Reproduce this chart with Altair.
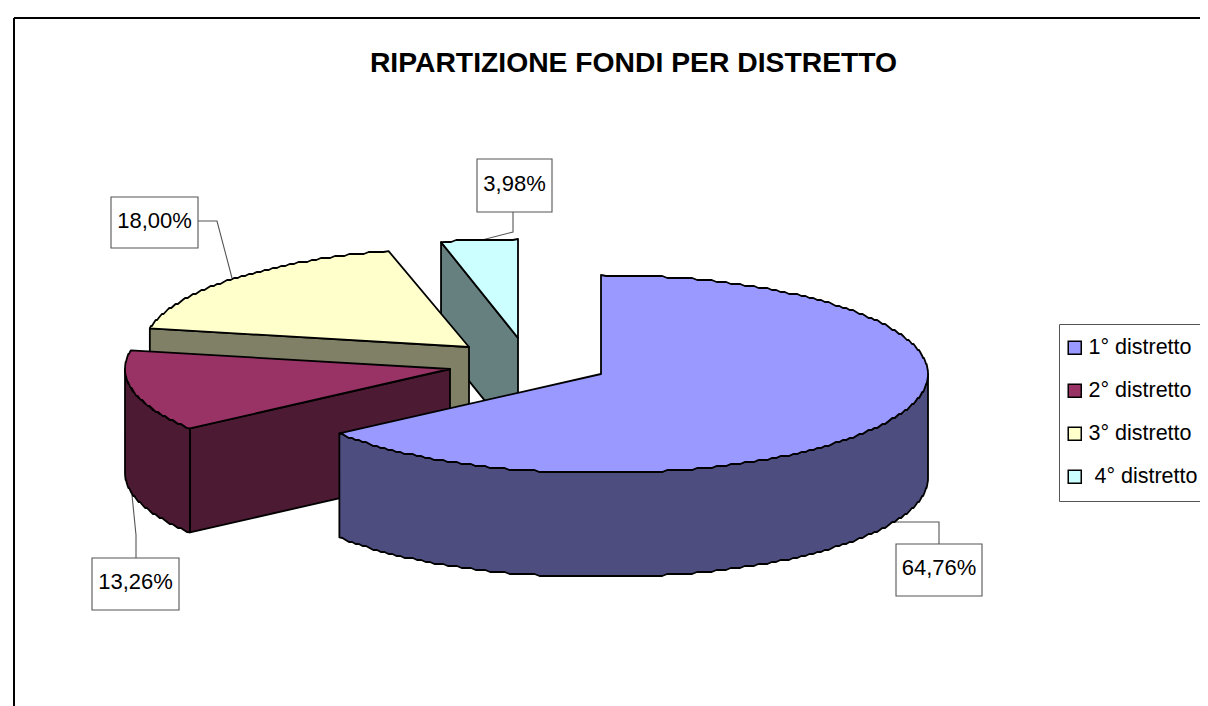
import math
import altair as alt

# ---- data ----
categories = ["1° distretto", "2° distretto", "3° distretto", "\u200b\u00a04° distretto"]
shares = [64.76, 13.26, 18.00, 3.98]
share_labels = ["64,76%", "13,26%", "18,00%", "3,98%"]
top_colors = ["#9999FF", "#993366", "#FFFFCC", "#CCFFFF"]
side_colors = ["#4D4D80", "#4D1A33", "#808066", "#668080"]

# exploded pie geometry (page pixels)
centers = [(601, 374), (450, 369), (469, 347), (518, 338)]
radii_x = [327, 325, 325, 311]
radius_y = 99
depth = 104

# label boxes: left, right, top, bottom, and text centre
box_left = [896, 92, 111, 477]
box_right = [982, 179, 198, 552]
box_top = [544, 558, 197, 159]
box_bottom = [596, 610, 248, 212]
leaders = [
    [(939, 544), (939, 522), (895, 522)],
    [(136, 558), (136, 535), (132, 495)],
    [(198, 221), (217, 221), (232, 278)],
    [(513, 212), (513, 232), (482, 240)],
]

FONT = "Liberation Sans"
PAGE = 8


def pt(i, deg, dy=0):
    a = math.radians(deg)
    return [centers[i][0] + radii_x[i] * math.sin(a),
            centers[i][1] - radius_y * math.cos(a) + dy]


def arc(i, a0, a1, dy=0, step=0.9):
    n = max(2, int(abs(a1 - a0) / step) + 1)
    out = []
    for k in range(n):
        x, y = pt(i, a0 + (a1 - a0) * k / (n - 1), dy)
        # the reference's curves are visibly stepped: keep them on a coarse grid
        if 0 < k < n - 1:
            y = round(y / 2) * 2
        out.append([x, y])
    return out


def feature(key, ring):
    ring = [list(p) for p in ring]
    return {"type": "Feature", "properties": {"key": key},
            "geometry": {"type": "Polygon", "coordinates": [ring + [ring[0]]]}}


# angular spans derived from the shares
ends, total = [], 0.0
for s in shares:
    total += s
    ends.append(total * 3.6)
starts = [0.0] + ends[:-1]

features = []
for i in [3, 2, 1, 0]:
    c = list(centers[i])
    side_key = categories[i] + " lato"
    a0, a1 = starts[i], ends[i]
    # visible cut faces
    if a0 > 180:
        p = pt(i, a0)
        features.append(feature(side_key, [c, p, [p[0], p[1] + depth], [c[0], c[1] + depth]]))
    if a1 < 180:
        p = pt(i, a1)
        features.append(feature(side_key, [c, p, [p[0], p[1] + depth], [c[0], c[1] + depth]]))
    # visible outer wall
    w0, w1 = max(a0, 90), min(a1, 270)
    if w1 > w0:
        top = arc(i, w0, w1)
        bottom = arc(i, w1, w0, depth)
        features.append(feature(side_key, top + bottom))
    # top face
    features.append(feature(categories[i], [c] + arc(i, a0, a1)))

keys = categories + [c + " lato" for c in categories]
colors = top_colors + side_colors

projection = dict(type="identity", scale=1, translate=[-PAGE, -PAGE])

pie = alt.Chart(alt.InlineData(
    values={"type": "FeatureCollection", "features": features},
    format=alt.DataFormat(property="features"),
)).mark_geoshape(stroke="black", strokeWidth=1.8, strokeJoin="round").encode(
    color=alt.Color(
        "properties.key:N",
        scale=alt.Scale(domain=keys, range=colors),
        legend=alt.Legend(
            values=categories, orient="none", legendX=1051, legendY=316,
            title=None, symbolType="square", symbolSize=170, symbolOffset=-8,
            symbolStrokeColor="black", symbolStrokeWidth=1.5, symbolOpacity=1,
            labelFont=FONT, labelFontSize=21.5, labelColor="black", labelOffset=3,
            labelLimit=300, rowPadding=20, padding=13,
            strokeColor="#555555", fillColor="white",
        ),
    ),
).project(**projection)

leader_lines = alt.Chart(alt.InlineData(
    values={"type": "FeatureCollection", "features": [
        {"type": "Feature", "properties": {},
         "geometry": {"type": "LineString", "coordinates": [list(p) for p in line]}}
        for line in leaders]},
    format=alt.DataFormat(property="features"),
)).mark_geoshape(filled=False, stroke="#555555", strokeWidth=1.1).project(**projection)

boxes_data = alt.Data(values=[
    {"l": box_left[i] - PAGE, "r": box_right[i] - PAGE,
     "t": box_top[i] - PAGE, "b": box_bottom[i] - PAGE,
     "cx": (box_left[i] + box_right[i]) / 2 - PAGE,
     "cy": (box_top[i] + box_bottom[i]) / 2 - PAGE - 2,
     "label": share_labels[i]}
    for i in range(4)])

px = dict(scale=None, axis=None)
boxes = alt.Chart(boxes_data).mark_rect(fill="white", stroke="#555555", strokeWidth=1.1).encode(
    x=alt.X("l:Q", **px), x2="r:Q", y=alt.Y("t:Q", **px), y2="b:Q")
box_text = alt.Chart(boxes_data).mark_text(
    font=FONT, fontSize=22, color="black", baseline="middle", align="center"
).encode(x=alt.X("cx:Q", **px), y=alt.Y("cy:Q", **px), text="label:N")

frame_left = alt.Chart(alt.Data(values=[{"x": 14 - PAGE, "y": 18 - PAGE, "y2": 698}])).mark_rule(
    color="black", strokeWidth=2
).encode(x=alt.X("x:Q", **px), y=alt.Y("y:Q", **px), y2="y2:Q")
frame_top = alt.Chart(alt.Data(values=[{"x": 14 - PAGE, "x2": 1192, "y": 18 - PAGE}])).mark_rule(
    color="black", strokeWidth=2
).encode(x=alt.X("x:Q", **px), x2="x2:Q", y=alt.Y("y:Q", **px))

chart = alt.layer(frame_left, frame_top, leader_lines, pie, boxes, box_text).properties(
    width=1192, height=698, padding=0,
    autosize=alt.AutoSizeParams(type="none"),
    background="white",
    title=alt.TitleParams(
        "RIPARTIZIONE FONDI PER DISTRETTO", font=FONT, fontSize=28.3, fontWeight="bold",
        color="black", anchor="middle", dx=29.5, dy=88, baseline="middle",
    ),
).configure_view(stroke=None)

chart.save("out.html", embed_options={"renderer": "svg", "actions": False})
